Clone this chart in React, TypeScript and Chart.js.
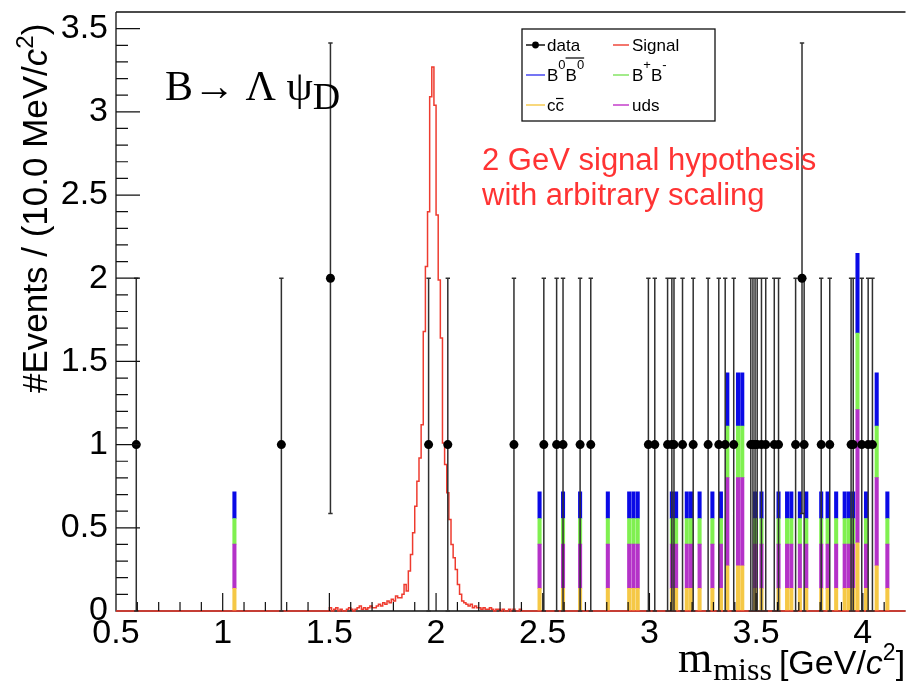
import React, { useEffect, useRef } from 'react';
import { Chart, registerables } from 'chart.js';

Chart.register(...registerables);

// ---------------- axis ticks ----------------
const xTickValues = [0.5, 1, 1.5, 2, 2.5, 3, 3.5, 4];
const yTickValues = [0, 0.5, 1, 1.5, 2, 2.5, 3, 3.5];

// ---------------- data (m_miss in GeV/c^2) ----------------
const dataMass = [
  0.595, 1.275, 1.505, 1.965, 2.055, 2.365, 2.505, 2.565, 2.595, 2.675,
  2.725, 2.995, 3.025, 3.085, 3.105, 3.115, 3.155, 3.205, 3.275, 3.325,
  3.355, 3.395, 3.475, 3.485, 3.495, 3.505, 3.525, 3.545, 3.585, 3.605,
  3.685, 3.715, 3.725, 3.805, 3.845, 3.945, 3.955, 3.995, 4.025, 4.045,
];
const dataCounts = [
  1, 1, 2, 1, 1, 1, 1, 1, 1, 1,
  1, 1, 1, 1, 1, 1, 1, 1, 1, 1,
  1, 1, 1, 1, 1, 1, 1, 1, 1, 1,
  1, 2, 1, 1, 1, 1, 1, 1, 1, 1,
];
const dataErrors = [
  1, 1, 1.414, 1, 1, 1, 1, 1, 1, 1,
  1, 1, 1, 1, 1, 1, 1, 1, 1, 1,
  1, 1, 1, 1, 1, 1, 1, 1, 1, 1,
  1, 1.414, 1, 1, 1, 1, 1, 1, 1, 1,
];

// ---------------- MC stack ----------------
const mcMass = [
  1.055, 2.485, 2.595, 2.675, 2.805, 2.905, 2.925, 2.945, 3.105, 3.125,
  3.175, 3.195, 3.235, 3.295, 3.335, 3.365, 3.415, 3.435, 3.495, 3.525,
  3.605, 3.645, 3.665, 3.705, 3.735, 3.805, 3.835, 3.875, 3.915, 3.935,
  3.955, 3.975, 4.015, 4.065, 4.115,
];
const mcCCbar = [
  0.136, 0.136, 0.136, 0.136, 0.136, 0.136, 0.136, 0.136, 0.136, 0.136,
  0.136, 0.136, 0.136, 0.136, 0.136, 0.272, 0.272, 0.272, 0.136, 0.136,
  0.136, 0.136, 0.136, 0.136, 0.136, 0.136, 0.136, 0.136, 0.136, 0.136,
  0.136, 0.41, 0.136, 0.272, 0.136,
];
const mcUDS = [
  0.266, 0.266, 0.266, 0.266, 0.266, 0.266, 0.266, 0.266, 0.266, 0.266,
  0.266, 0.266, 0.266, 0.266, 0.266, 0.53, 0.53, 0.53, 0.266, 0.266,
  0.266, 0.266, 0.266, 0.266, 0.266, 0.266, 0.266, 0.266, 0.266, 0.266,
  0.266, 0.8, 0.266, 0.53, 0.266,
];
const mcBpBm = [
  0.154, 0.154, 0.154, 0.154, 0.154, 0.154, 0.154, 0.154, 0.154, 0.154,
  0.154, 0.154, 0.154, 0.154, 0.154, 0.31, 0.31, 0.31, 0.154, 0.154,
  0.154, 0.154, 0.154, 0.154, 0.154, 0.154, 0.154, 0.154, 0.154, 0.154,
  0.154, 0.46, 0.154, 0.31, 0.154,
];
const mcB0B0bar = [
  0.16, 0.16, 0.16, 0.16, 0.16, 0.16, 0.16, 0.16, 0.16, 0.16,
  0.16, 0.16, 0.16, 0.16, 0.16, 0.32, 0.32, 0.32, 0.16, 0.16,
  0.16, 0.16, 0.16, 0.16, 0.16, 0.16, 0.16, 0.16, 0.16, 0.16,
  0.16, 0.48, 0.16, 0.32, 0.16,
];

// ---------------- signal (2 GeV hypothesis, 10 MeV bins from 1.50) ----------------
const signalLowEdge = 1.5;
const signalBinWidth = 0.01;
const signalValues = [
  0.02, 0, 0.01, 0.02, 0, 0.01, 0, 0, 0.01, 0.02,
  0.01, 0, 0.01, 0.02, 0.03, 0.01, 0.02, 0.01, 0.02, 0.03,
  0.02, 0.02, 0.03, 0.04, 0.03, 0.05, 0.04, 0.06, 0.05, 0.07,
  0.06, 0.09, 0.08, 0.08, 0.1, 0.16, 0.12, 0.24, 0.34, 0.47,
  0.63, 0.78, 0.92, 1.12, 1.68, 2.07, 2.4, 3.09, 3.27, 3.04,
  2.38, 1.99, 1.64, 1.01, 0.88, 0.71, 0.55, 0.4, 0.32, 0.25,
  0.16, 0.1, 0.06, 0.05, 0.04, 0.03, 0.04, 0.02, 0.03, 0.02,
  0.02, 0.01, 0.02, 0.01, 0.01, 0.02, 0.01, 0, 0.01, 0.01,
  0, 0.01, 0, 0, 0.01, 0, 0.01, 0, 0, 0.01,
];

const X_MIN = 0.5;
const X_MAX = 4.2;
const Y_MIN = 0;
const Y_MAX = 3.6;

const SANS = "'Liberation Sans', Arial, Helvetica, sans-serif";
const SERIF = "'Liberation Serif', 'Times New Roman', serif";

const COLORS = {
  cc: '#f5c846',
  uds: '#b432c8',
  bpbm: '#80f050',
  b0b0: '#0a0ae6',
  signal: '#ee3b2f',
  text: '#ff3333',
};

type Run = { t: string; font: string; dy?: number };

function drawRuns(ctx: CanvasRenderingContext2D, x: number, y: number, runs: Run[]) {
  let cx = x;
  for (const r of runs) {
    ctx.font = r.font;
    ctx.fillText(r.t, cx, y + (r.dy || 0));
    cx += ctx.measureText(r.t).width;
  }
  return cx;
}

const DATA_INDEX = 5;

const decorPlugin = {
  id: 'decor',
  beforeDatasetsDraw(chart: any) {
    const { ctx, chartArea: a } = chart;
    ctx.save();
    ctx.strokeStyle = '#111';
    ctx.lineWidth = 1.3;
    ctx.beginPath();
    ctx.moveTo(a.left, a.top);
    ctx.lineTo(a.right, a.top);
    ctx.moveTo(a.left, a.top);
    ctx.lineTo(a.left, a.bottom);
    ctx.lineTo(a.right, a.bottom);
    ctx.stroke();
    ctx.restore();
  },
  beforeDatasetDraw(chart: any, args: any) {
    if (args.index !== DATA_INDEX) return;
    const { ctx } = chart;
    const xs = chart.scales.x;
    const ys = chart.scales.y;
    ctx.save();
    ctx.strokeStyle = '#303030';
    ctx.lineWidth = 1.5;
    ctx.beginPath();
    dataMass.forEach((m, i) => {
      const px = xs.getPixelForValue(m);
      const top = ys.getPixelForValue(dataCounts[i] + dataErrors[i]);
      const bot = ys.getPixelForValue(Math.max(0, dataCounts[i] - dataErrors[i]));
      ctx.moveTo(px, top);
      ctx.lineTo(px, bot);
      ctx.moveTo(px - 2.2, top);
      ctx.lineTo(px + 2.2, top);
      ctx.moveTo(px - 2.2, bot);
      ctx.lineTo(px + 2.2, bot);
    });
    ctx.stroke();
    ctx.restore();
  },
  afterDatasetsDraw(chart: any) {
    const { ctx, chartArea: a } = chart;
    const xs = chart.scales.x;
    const ys = chart.scales.y;
    ctx.save();
    ctx.strokeStyle = '#111';
    ctx.lineWidth = 1.2;
    ctx.beginPath();
    for (let k = 1; ; k++) {
      const v = X_MIN + k * 0.1;
      if (v > X_MAX - 1e-6) break;
      const major = Math.abs(v * 2 - Math.round(v * 2)) < 1e-6;
      const px = xs.getPixelForValue(v);
      ctx.moveTo(px, a.bottom);
      ctx.lineTo(px, a.bottom - (major ? 18 : 9));
    }
    for (let k = 1; ; k++) {
      const v = Y_MIN + k * 0.1;
      if (v > Y_MAX - 1e-6) break;
      const major = Math.abs(v * 2 - Math.round(v * 2)) < 1e-6;
      const py = ys.getPixelForValue(v);
      ctx.moveTo(a.left, py);
      ctx.lineTo(a.left + (major ? 24 : 12), py);
    }
    ctx.stroke();
    ctx.restore();
  },
  afterDraw(chart: any) {
    const { ctx } = chart;
    ctx.save();
    ctx.fillStyle = '#000';
    ctx.textBaseline = 'alphabetic';
    ctx.textAlign = 'left';

    // Decay label
    const endB = drawRuns(ctx, 165, 100, [{ t: 'B\u2192 \u039B \u03C8', font: `42px ${SERIF}` }]);
    drawRuns(ctx, endB, 109, [{ t: 'D', font: `38px ${SERIF}` }]);

    // red annotation
    ctx.fillStyle = COLORS.text;
    ctx.font = `31px ${SANS}`;
    ctx.fillText('2 GeV signal hypothesis', 482, 170);
    ctx.fillText('with arbitrary scaling', 482, 205);

    // x title
    ctx.fillStyle = '#000';
    let cx = drawRuns(ctx, 678, 672, [{ t: 'm', font: `44px ${SERIF}` }]);
    cx = drawRuns(ctx, cx + 1, 680, [{ t: 'miss', font: `32px ${SERIF}` }]);
    drawRuns(ctx, cx + 7, 674, [
      { t: '[GeV/', font: `34px ${SANS}` },
      { t: 'c', font: `italic 34px ${SANS}` },
      { t: '2', font: `23px ${SANS}`, dy: -14 },
      { t: ']', font: `34px ${SANS}` },
    ]);

    // y title (rotated)
    ctx.save();
    ctx.translate(47, 393);
    ctx.rotate(-Math.PI / 2);
    drawRuns(ctx, 0, 0, [
      { t: '#Events / (10.0 MeV/', font: `35px ${SANS}` },
      { t: 'c', font: `italic 35px ${SANS}` },
      { t: '2', font: `24px ${SANS}`, dy: -14 },
      { t: ')', font: `35px ${SANS}` },
    ]);
    ctx.restore();

    // legend
    const L = { x: 522, y: 29, w: 193, h: 92 };
    ctx.fillStyle = '#fff';
    ctx.fillRect(L.x, L.y, L.w, L.h);
    ctx.strokeStyle = '#111';
    ctx.lineWidth = 1.3;
    ctx.strokeRect(L.x, L.y, L.w, L.h);

    const lx1 = 526, lx2 = 545, tx1 = 547;
    const rx1 = 613, rx2 = 629, tx2 = 632;
    const base = [51, 81, 111];
    const ly = [45, 75, 105];
    const seg = (x1: number, x2: number, y: number, c: string) => {
      ctx.strokeStyle = c;
      ctx.lineWidth = 1.4;
      ctx.beginPath();
      ctx.moveTo(x1, y);
      ctx.lineTo(x2, y);
      ctx.stroke();
    };
    const F = `17px ${SANS}`;
    const FS = `13px ${SANS}`;
    ctx.fillStyle = '#000';

    // row 1
    seg(lx1, lx2, ly[0], '#000');
    ctx.beginPath();
    ctx.arc((lx1 + lx2) / 2, ly[0], 3.4, 0, Math.PI * 2);
    ctx.fill();
    drawRuns(ctx, tx1, base[0], [{ t: 'data', font: F }]);
    seg(rx1, rx2, ly[0], COLORS.signal);
    drawRuns(ctx, tx2, base[0], [{ t: 'Signal', font: F }]);

    // row 2
    seg(lx1, lx2, ly[1], '#3a3af0');
    let p = drawRuns(ctx, tx1, base[1], [
      { t: 'B', font: F },
      { t: '0', font: FS, dy: -12 },
    ]);
    const ovStart = p;
    p = drawRuns(ctx, p, base[1], [
      { t: 'B', font: F },
      { t: '0', font: FS, dy: -12 },
    ]);
    ctx.strokeStyle = '#000';
    ctx.lineWidth = 1.2;
    ctx.beginPath();
    ctx.moveTo(ovStart, base[1] - 23);
    ctx.lineTo(p, base[1] - 23);
    ctx.stroke();
    seg(rx1, rx2, ly[1], '#7be35a');
    drawRuns(ctx, tx2, base[1], [
      { t: 'B', font: F },
      { t: '+', font: FS, dy: -12 },
      { t: 'B', font: F },
      { t: '-', font: FS, dy: -12 },
    ]);

    // row 3
    seg(lx1, lx2, ly[2], COLORS.cc);
    p = drawRuns(ctx, tx1, base[2], [{ t: 'c', font: F }]);
    const c2 = p;
    p = drawRuns(ctx, p, base[2], [{ t: 'c', font: F }]);
    ctx.strokeStyle = '#000';
    ctx.lineWidth = 1.2;
    ctx.beginPath();
    ctx.moveTo(c2 + 0.5, base[2] - 12.5);
    ctx.lineTo(p - 0.5, base[2] - 12.5);
    ctx.stroke();
    seg(rx1, rx2, ly[2], '#c030c8');
    drawRuns(ctx, tx2, base[2], [{ t: 'uds', font: F }]);

    ctx.restore();
  },
};

export default function App() {
  const ref = useRef<HTMLCanvasElement>(null);

  useEffect(() => {
    const canvas = ref.current;
    if (!canvas) return;

    const mcSets = [
      { label: 'ccbar', values: mcCCbar, color: COLORS.cc },
      { label: 'uds', values: mcUDS, color: COLORS.uds },
      { label: 'B+B-', values: mcBpBm, color: COLORS.bpbm },
      { label: 'B0B0bar', values: mcB0B0bar, color: COLORS.b0b0 },
    ];

    const signalPoints: { x: number; y: number }[] = [{ x: X_MIN, y: 0 }];
    signalValues.forEach((v, i) => {
      signalPoints.push({ x: signalLowEdge + i * signalBinWidth, y: v });
    });
    signalPoints.push({ x: signalLowEdge + signalValues.length * signalBinWidth, y: 0 });
    signalPoints.push({ x: X_MAX, y: 0 });

    const dataPoints = dataMass.map((m, i) => ({ x: m, y: dataCounts[i] }));

    const tickFont = { family: SANS, size: 34 };

    const chart = new Chart(canvas, {
      type: 'bar',
      data: {
        datasets: [
          ...mcSets.map((s, k) => ({
            type: 'bar' as const,
            label: s.label,
            data: mcMass.map((m, i) => ({ x: m, y: s.values[i] })),
            backgroundColor: s.color,
            borderWidth: 0,
            barThickness: 3.4,
            stack: 'mc',
            order: 2 + k,
          })),
          {
            type: 'line' as const,
            label: 'Signal',
            data: signalPoints,
            borderColor: COLORS.signal,
            borderWidth: 1.5,
            stepped: 'before' as const,
            pointRadius: 0,
            fill: false,
            stack: 'sig',
            order: 1,
            clip: 4,
          },
          {
            type: 'line' as const,
            label: 'data',
            data: dataPoints,
            showLine: false,
            pointRadius: 4.5,
            pointBackgroundColor: '#000',
            pointBorderColor: '#000',
            pointBorderWidth: 0,
            stack: 'data',
            order: 0,
            clip: 8,
          },
        ],
      } as any,
      options: {
        animation: false,
        responsive: false,
        devicePixelRatio: 1,
        events: [],
        layout: { padding: { top: 12, right: 1, left: 0, bottom: 0 } },
        plugins: {
          legend: { display: false },
          tooltip: { enabled: false },
          title: { display: false },
        },
        scales: {
          x: {
            type: 'linear',
            min: X_MIN,
            max: X_MAX,
            offset: false,
            stacked: true,
            grid: { display: false, drawTicks: false, offset: false },
            border: { display: false },
            ticks: {
              font: tickFont,
              color: '#000',
              padding: 2,
              maxRotation: 0,
              autoSkip: false,
              callback: (v: any) => String(v),
            },
            afterBuildTicks: (s: any) => {
              s.ticks = xTickValues.map((v) => ({ value: v }));
            },
            afterFit: (s: any) => {
              s.height = 72;
              s.paddingLeft = 0;
              s.paddingRight = 0;
            },
          },
          y: {
            type: 'linear',
            min: Y_MIN,
            max: Y_MAX,
            stacked: true,
            grid: { display: false, drawTicks: false },
            border: { display: false },
            ticks: {
              font: tickFont,
              color: '#000',
              padding: 8,
              autoSkip: false,
              callback: (v: any) => String(v),
            },
            afterBuildTicks: (s: any) => {
              s.ticks = yTickValues.map((v) => ({ value: v }));
            },
            afterFit: (s: any) => {
              s.width = 116;
              s.paddingTop = 0;
              s.paddingBottom = 0;
            },
          },
        },
      } as any,
      plugins: [decorPlugin],
    });

    return () => chart.destroy();
  }, []);

  return (
    <div
      style={{
        position: 'fixed',
        left: 0,
        top: 0,
        width: 908,
        height: 683,
        overflow: 'hidden',
        background: '#fff',
      }}
    >
      <canvas ref={ref} width={910} height={683} style={{ display: 'block' }} />
    </div>
  );
}
